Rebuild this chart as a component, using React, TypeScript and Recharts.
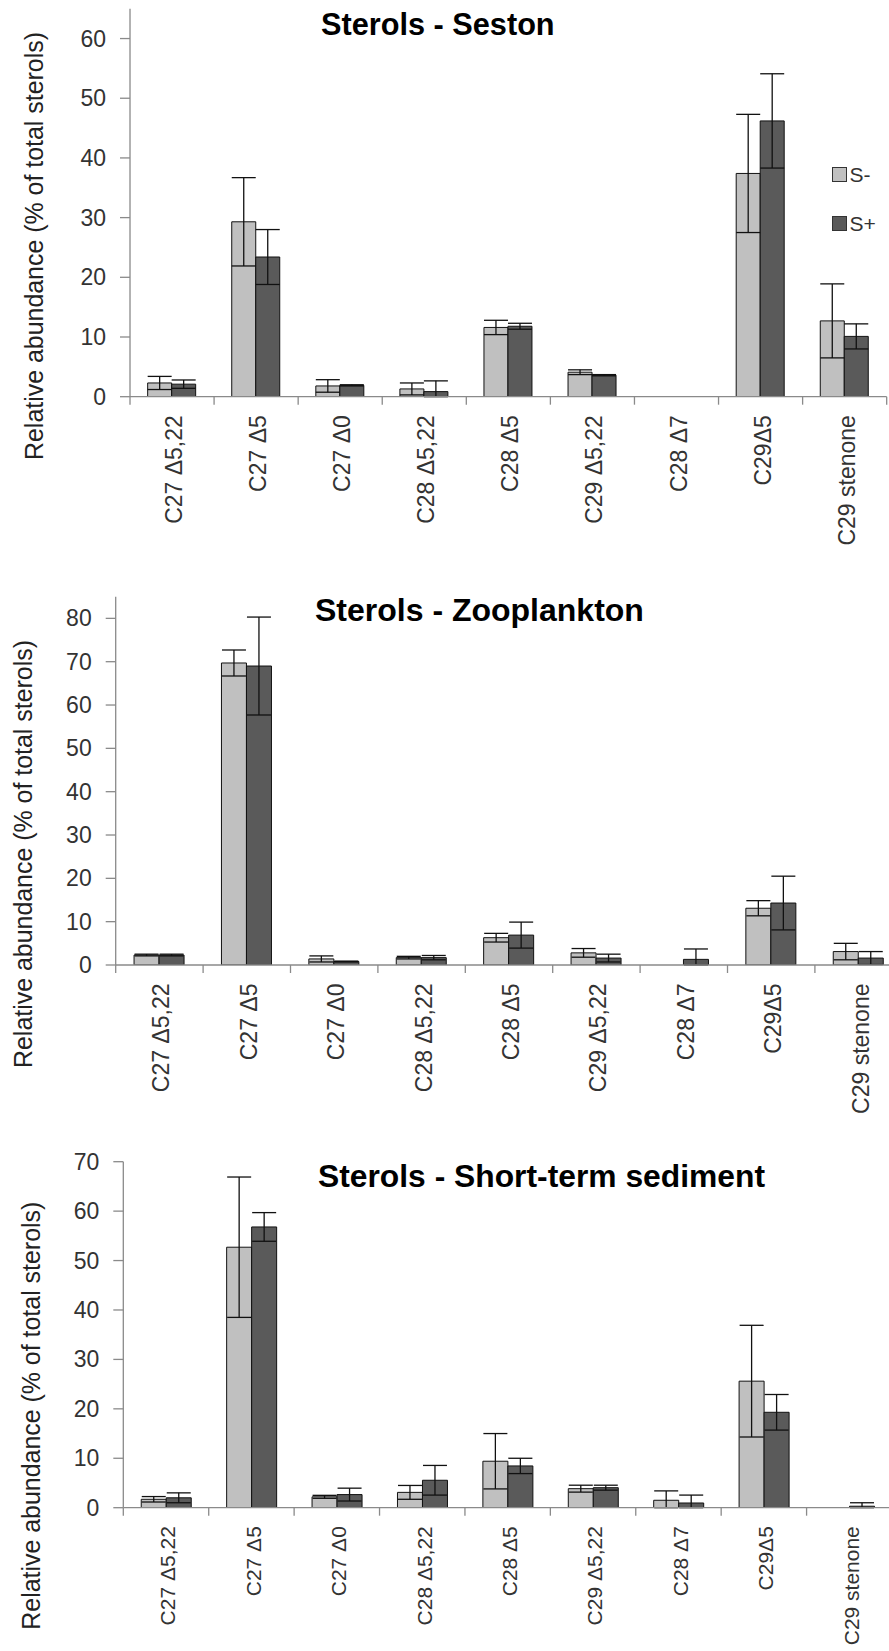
import React from 'react';
import { BarChart, Bar, XAxis, YAxis, ErrorBar, Legend } from 'recharts';

// ---------- data ----------
const categories = [
  'C27 Δ5,22',
  'C27 Δ5',
  'C27 Δ0',
  'C28 Δ5,22',
  'C28 Δ5',
  'C29 Δ5,22',
  'C28 Δ7',
  'C29Δ5',
  'C29 stenone',
];

const seriesNames = ['S-', 'S+'];
const chartTitles = ['Sterols - Seston', 'Sterols - Zooplankton', 'Sterols - Short-term sediment'];
const yAxisLabel = 'Relative abundance (% of total sterols)';

// Seston
const sestonMinus = [2.3, 29.3, 1.8, 1.3, 11.6, 4.1, 0, 37.4, 12.7];
const sestonMinusErr = [1.1, 7.4, 1.05, 1.0, 1.2, 0.4, 0, 9.9, 6.2];
const sestonPlus = [2.1, 23.4, 1.9, 0.85, 11.8, 3.6, 0, 46.2, 10.1];
const sestonPlusErr = [0.7, 4.6, 0.1, 1.8, 0.5, 0.1, 0, 7.9, 2.1];
const sestonTicks = [0, 10, 20, 30, 40, 50, 60];
const sestonMax = 65;

// Zooplankton
const zooMinus = [2.3, 69.7, 1.4, 1.7, 6.3, 2.8, 0, 13.1, 3.1];
const zooMinusErr = [0.2, 3.0, 0.7, 0.3, 1.0, 1.0, 0, 1.75, 1.9];
const zooPlus = [2.3, 69.0, 0.8, 1.7, 6.9, 1.6, 1.3, 14.3, 1.6];
const zooPlusErr = [0.2, 11.3, 0.1, 0.5, 3.0, 0.9, 2.4, 6.2, 1.5];
const zooTicks = [0, 10, 20, 30, 40, 50, 60, 70, 80];
const zooMax = 85;

// Short-term sediment
const sedMinus = [1.7, 52.7, 2.2, 3.1, 9.4, 3.85, 1.5, 25.6, 0];
const sedMinusErr = [0.55, 14.2, 0.3, 1.4, 5.6, 0.7, 1.9, 11.3, 0];
const sedPlus = [2.0, 56.8, 2.65, 5.55, 8.45, 4.05, 0.95, 19.3, 0.3];
const sedPlusErr = [1.0, 2.9, 1.3, 3.0, 1.55, 0.5, 1.6, 3.6, 0.7];
const sedTicks = [0, 10, 20, 30, 40, 50, 60, 70];
const sedMax = 70;

// ---------- styles ----------
const FONT = "'Liberation Sans', Arial, sans-serif";
const AXIS = '#8a8a8a';
const TEXT = '#333333';
const LIGHT = '#c0c0c0';
const DARK = '#5a5a5a';

function errPair(v: number, e: number) {
  if (!e) return undefined;
  // the plot is clipped at zero, as in the original
  return [Math.min(e, v), e];
}

function buildRows(minus: number[], minusErr: number[], plus: number[], plusErr: number[]) {
  return categories.map((name, i) => ({
    name,
    sMinus: minus[i],
    sPlus: plus[i],
    sMinusErr: errPair(minus[i], minusErr[i]),
    sPlusErr: errPair(plus[i], plusErr[i]),
  }));
}

const makeXTick = (fontSize: number) => (props: any) => {
  const { x, y, payload, index, visibleTicksCount, width } = props;
  const half =
    payload && typeof payload.offset === 'number' && payload.offset > 0
      ? payload.offset
      : width / visibleTicksCount / 2;
  const tx = x + 2;
  const ty = y + 18.5;
  return (
    <g>
      <line x1={x - half} x2={x - half} y1={y} y2={y + 8} stroke={AXIS} strokeWidth={1.3} />
      {index === visibleTicksCount - 1 ? (
        <line x1={x + half} x2={x + half} y1={y} y2={y + 8} stroke={AXIS} strokeWidth={1.3} />
      ) : null}
      <text
        x={tx}
        y={ty}
        transform={`rotate(-90 ${tx} ${ty})`}
        textAnchor="end"
        dy="0.35em"
        fontSize={fontSize}
        fill={TEXT}
        fontFamily={FONT}
      >
        {payload.value}
      </text>
    </g>
  );
};

const XTickLarge = makeXTick(23);
const XTickSmall = makeXTick(21);

// y tick label: right edge 24px left of the axis line (10px tick + 14px gap)
const makeYTick = (axisX: number) => (props: any) => {
  const { y, payload } = props;
  return (
    <text x={axisX - 24} y={y} dy="0.35em" textAnchor="end" fontSize={23} fill={TEXT} fontFamily={FONT}>
      {payload.value}
    </text>
  );
};

const LegendContent = (props: any) => {
  const items = [...(props.payload || [])].sort(
    (a: any, b: any) => seriesNames.indexOf(a.value) - seriesNames.indexOf(b.value)
  );
  return (
    <div style={{ fontFamily: FONT }}>
      {items.map((e: any, i: number) => (
        <div
          key={i}
          style={{ display: 'flex', alignItems: 'center', height: 15, marginBottom: i === 0 ? 34 : 0 }}
        >
          <span
            style={{
              display: 'inline-block',
              width: 15,
              height: 15,
              boxSizing: 'border-box',
              background: e.color,
              border: '1px solid #333',
            }}
          />
          <span style={{ marginLeft: 3, fontSize: 21, color: TEXT, lineHeight: '15px' }}>{e.value}</span>
        </div>
      ))}
    </div>
  );
};

type PanelProps = {
  rows: any[];
  ticks: number[];
  max: number;
  width: number;
  height: number;
  margin: { top: number; right: number; bottom: number; left: number };
  yWidth: number;
  legend?: boolean;
  tick: any;
};

const Panel = ({ rows, ticks, max, width, height, margin, yWidth, legend, tick }: PanelProps) => {
  const YTick = makeYTick(margin.left + yWidth);
  return (
    <BarChart
      width={width}
      height={height}
      data={rows}
      margin={margin}
      barCategoryGap="21%"
      barGap={0}
    >
      <XAxis
        dataKey="name"
        interval={0}
        height={180}
        tickSize={0}
        tickMargin={0}
        tickLine={false}
        axisLine={{ stroke: AXIS, strokeWidth: 1.3 }}
        tick={tick}
      />
      <YAxis
        domain={[0, max]}
        ticks={ticks}
        width={yWidth}
        tickSize={10}
        tickMargin={14}
        axisLine={{ stroke: AXIS, strokeWidth: 1.3 }}
        tickLine={{ stroke: AXIS, strokeWidth: 1.3 }}
        tick={<YTick />}
        allowDataOverflow
      />
      {legend ? (
        <Legend
          layout="vertical"
          align="center"
          verticalAlign="middle"
          content={<LegendContent />}
          wrapperStyle={{ position: 'absolute', left: 831.5, top: 166.5, width: 60, height: 70 }}
        />
      ) : null}
      <Bar dataKey="sMinus" name={seriesNames[0]} fill={LIGHT} stroke="#111" strokeWidth={1} isAnimationActive={false}>
        <ErrorBar dataKey="sMinusErr" width={12} stroke="#111" strokeWidth={1.3} direction="y" isAnimationActive={false} />
      </Bar>
      <Bar dataKey="sPlus" name={seriesNames[1]} fill={DARK} stroke="#111" strokeWidth={1} isAnimationActive={false}>
        <ErrorBar dataKey="sPlusErr" width={12} stroke="#111" strokeWidth={1.3} direction="y" isAnimationActive={false} />
      </Bar>
    </BarChart>
  );
};

const sestonRows = buildRows(sestonMinus, sestonMinusErr, sestonPlus, sestonPlusErr);
const zooRows = buildRows(zooMinus, zooMinusErr, zooPlus, zooPlusErr);
const sedRows = buildRows(sedMinus, sedMinusErr, sedPlus, sedPlusErr);

const yLabelProps = {
  textAnchor: 'middle' as const,
  fontSize: 25,
  fill: '#222',
  fontFamily: FONT,
  textLength: 428,
  lengthAdjust: 'spacingAndGlyphs' as const,
};

export default function App() {
  return (
    <div
      style={{
        position: 'absolute',
        left: 0,
        top: 0,
        width: 889,
        height: 1651,
        overflow: 'hidden',
        background: '#fff',
        fontFamily: FONT,
      }}
    >
      <div style={{ position: 'absolute', left: 0, top: 0 }}>
        <Panel
          rows={sestonRows}
          ticks={sestonTicks}
          max={sestonMax}
          width={900}
          height={576.7}
          margin={{ top: 8.7, right: 13.3, bottom: 0, left: 0 }}
          yWidth={130}
          legend
          tick={<XTickLarge />}
        />
      </div>
      <div style={{ position: 'absolute', left: 0, top: 560 }}>
        <Panel
          rows={zooRows}
          ticks={zooTicks}
          max={zooMax}
          width={910}
          height={585}
          margin={{ top: 36.7, right: 7.7, bottom: 0, left: 0 }}
          yWidth={115.7}
          tick={<XTickLarge />}
        />
      </div>
      <div style={{ position: 'absolute', left: 0, top: 1120 }}>
        <Panel
          rows={sedRows}
          ticks={sedTicks}
          max={sedMax}
          width={900}
          height={567.7}
          margin={{ top: 41.7, right: 8, bottom: 0, left: 0 }}
          yWidth={123.3}
          tick={<XTickSmall />}
        />
      </div>
      <svg
        width={889}
        height={1651}
        style={{ position: 'absolute', left: 0, top: 0, pointerEvents: 'none' }}
      >
        <text x={321} y={35} fontSize={30.7} fontWeight="bold" fontFamily={FONT} fill="#000">
          {chartTitles[0]}
        </text>
        <text x={315} y={621} fontSize={32} fontWeight="bold" fontFamily={FONT} fill="#000">
          {chartTitles[1]}
        </text>
        <text x={318} y={1187} fontSize={31.8} fontWeight="bold" fontFamily={FONT} fill="#000">
          {chartTitles[2]}
        </text>
        <text transform="translate(43.3,246) rotate(-90)" {...yLabelProps}>
          {yAxisLabel}
        </text>
        <text transform="translate(31.7,854) rotate(-90)" {...yLabelProps}>
          {yAxisLabel}
        </text>
        <text transform="translate(40,1415.7) rotate(-90)" {...yLabelProps}>
          {yAxisLabel}
        </text>
      </svg>
    </div>
  );
}
